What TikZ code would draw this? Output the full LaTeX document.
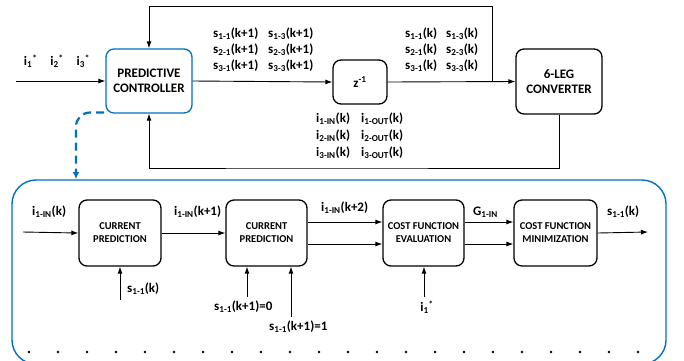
\documentclass[tikz,border=0pt]{standalone}
\usepackage{fontspec}
\setmainfont{Carlito}
\usetikzlibrary{arrows.meta,calc}
\definecolor{ublue}{RGB}{0,112,192}
\newcommand{\subx}[1]{\textsubscript{#1}}
\newcommand{\supx}[1]{\textsuperscript{#1}}
\begin{document}
\begin{tikzpicture}[x=1pt,y=-1pt,
  blk/.style={draw,rounded corners=8pt,line width=1.3pt,align=center,inner sep=0pt,font=\bfseries\fontsize{13}{15.5}\selectfont},
  sblk/.style={draw,rounded corners=8pt,line width=1.3pt,align=center,inner sep=0pt,minimum width=81pt,minimum height=66pt,font=\bfseries\fontsize{10.5}{13}\selectfont},
  con/.style={line width=0.9pt,-{Latex[length=7pt,width=5pt]}},
  ln/.style={line width=0.9pt},
  lab/.style={font=\bfseries\fontsize{13}{15}\selectfont,inner sep=0pt,anchor=west},
  dot/.style={circle,fill=black,inner sep=0pt,minimum size=2.8pt}]
\useasboundingbox (0,0) rectangle (684,360);
% top part
\node[blk,draw=ublue,minimum width=86pt,minimum height=64pt] (pc) at (149,81) {PREDICTIVE\\CONTROLLER};
\node[blk,minimum width=54pt,minimum height=44pt] (z) at (360,82) {z\supx{-1}};
\node[blk,minimum width=86pt,minimum height=65pt] (conv) at (559,81.5) {6-LEG\\CONVERTER};
\coordinate (in) at (16,81);
\coordinate (fbA) at (492,82);
\coordinate (tf) at (492,6);
\coordinate (bf) at (300,168);
\draw[con] (in) -- (pc.west);
\draw[con] (pc.east) -- (z.west);
\draw[con] (z.east) -- (conv.west);
\draw[con] (fbA) -- (tf) -| (pc.north);
\draw[con] (conv.south) |- (bf) -| (pc.south);
\node[lab,anchor=center] (istar) at (57,61) {i\subx{1}\supx{*}\quad i\subx{2}\supx{*}\quad i\subx{3}\supx{*}};
\node[lab] (a1) at (213,34) {s\subx{1-1}(k+1)};
\node[lab] (a2) at (213,50) {s\subx{2-1}(k+1)};
\node[lab] (a3) at (213,66) {s\subx{3-1}(k+1)};
\node[lab] (a4) at (268,34) {s\subx{1-3}(k+1)};
\node[lab] (a5) at (268,50) {s\subx{2-3}(k+1)};
\node[lab] (a6) at (268,66) {s\subx{3-3}(k+1)};
\node[lab] (b1) at (405,34) {s\subx{1-1}(k)};
\node[lab] (b2) at (405,50) {s\subx{2-1}(k)};
\node[lab] (b3) at (405,66) {s\subx{3-1}(k)};
\node[lab] (b4) at (446,34) {s\subx{1-3}(k)};
\node[lab] (b5) at (446,50) {s\subx{2-3}(k)};
\node[lab] (b6) at (446,66) {s\subx{3-3}(k)};
\node[lab] (c1) at (316,119) {i\subx{1-IN}(k)};
\node[lab] (c2) at (316,136) {i\subx{2-IN}(k)};
\node[lab] (c3) at (316,153) {i\subx{3-IN}(k)};
\node[lab] (c4) at (361,119) {i\subx{1-OUT}(k)};
\node[lab] (c5) at (361,136) {i\subx{2-OUT}(k)};
\node[lab] (c6) at (361,153) {i\subx{3-OUT}(k)};
% dashed link
\coordinate (d0) at (104,112.5);
\coordinate (d1) at (76,112.5);
\coordinate (d2) at (76,179);
\draw[ublue,line width=2.2pt,dash pattern=on 8pt off 5pt,rounded corners=14pt,-{Latex[length=7pt,width=7pt]}] (d0) -- (d1) -- (d2);
% bottom box
\begin{scope}
\clip (0,0) rectangle (684,360);
\draw[ublue,line width=1.4pt,rounded corners=24pt] (12,180) rectangle (666,364);
\end{scope}
\node[sblk,minimum width=82pt] (cp1) at (120,233) {CURRENT\\PREDICTION};
\node[sblk] (cp2) at (266.5,233) {CURRENT\\PREDICTION};
\node[sblk] (cfe) at (423.5,233) {COST FUNCTION\\EVALUATION};
\node[sblk,minimum width=83pt] (cfm) at (555.5,233) {COST FUNCTION\\MINIMIZATION};
\coordinate (bin) at (23,232);
\coordinate (bout) at (648,232);
\coordinate (u1) at (120,300);
\coordinate (u2) at (247,297);
\coordinate (u3) at (291,317);
\coordinate (u4) at (424,297);
\draw[con] (bin) -- (cp1.west);
\draw[con] (cp1.east) -- (cp2.west);
\draw[con] ([yshift=11pt]cp2.east) -- ([yshift=11pt]cfe.west);
\draw[con] ([yshift=-11pt]cp2.east) -- ([yshift=-11pt]cfe.west);
\draw[con] ([yshift=11pt]cfe.east) -- ([yshift=11pt]cfm.west);
\draw[con] ([yshift=-11pt]cfe.east) -- ([yshift=-11pt]cfm.west);
\draw[con] (cfm.east) -- (bout);
\draw[con] (u1) -- (cp1.south);
\draw[con] (u2) -- (u2 |- cp2.south);
\draw[con] (u3) -- (u3 |- cp2.south);
\draw[con] (u4) -- (u4 |- cfe.south);
\node[lab] (l1) at (32,212) {i\subx{1-IN}(k)};
\node[lab] (l2) at (174,212) {i\subx{1-IN}(k+1)};
\node[lab] (l3) at (321,208) {i\subx{1-IN}(k+2)};
\node[lab] (l4) at (473,212) {G\subx{1-IN}};
\node[lab] (l5) at (607,212) {s\subx{1-1}(k)};
\node[lab] (l6) at (127,289) {s\subx{1-1}(k)};
\node[lab] (l7) at (214,307) {s\subx{1-1}(k+1)=0};
\node[lab] (l8) at (269,327) {s\subx{1-1}(k+1)=1};
\node[lab,anchor=center] (l9) at (427,307) {i\subx{1}\supx{*}};
\foreach \i in {0,...,21} { \node[dot] (dt\i) at (29+29*\i,352) {}; }
\end{tikzpicture}
\end{document}
